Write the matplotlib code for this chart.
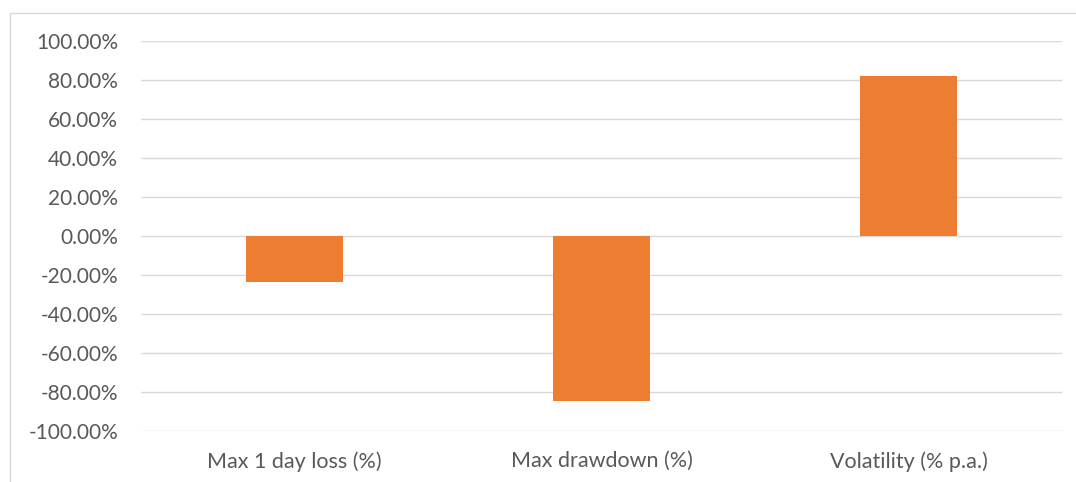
import matplotlib
matplotlib.use("Agg")
import matplotlib.pyplot as plt
from matplotlib.patches import Rectangle
from matplotlib.ticker import FuncFormatter

categories = ["Max 1 day loss (%)", "Max drawdown (%)", "Volatility (% p.a.)"]
values = [-23.5, -84.5, 82.0]
yticks = [-100, -80, -60, -40, -20, 0, 20, 40, 60, 80, 100]

plt.rcParams["font.family"] = ["Lato", "DejaVu Sans"]

fig = plt.figure(figsize=(10.76, 4.82), dpi=100)
W, H = 1076, 482
ax = fig.add_axes([141 / W, 1 - 431 / H, (1062 - 141) / W, (431 - 41) / H])

# chart frame, runs off the right and bottom edges
fig.patches.append(Rectangle((9.5 / W, -0.1), 1.2, 1 - 12.5 / H + 0.1,
                             transform=fig.transFigure, fill=False,
                             edgecolor="#d9d9d9", linewidth=1))

x = range(len(categories))
ax.bar(x, values, width=0.316, color="#ED7D31", zorder=3)

ax.set_xlim(-0.5, 2.5)
ax.set_ylim(-100, 100)
ax.set_yticks(yticks)
ax.yaxis.set_major_formatter(FuncFormatter(lambda v, p: f"{v:.2f}%"))
ax.grid(axis="y", color="#d9d9d9", linewidth=1, zorder=0)
for s in ax.spines.values():
    s.set_visible(False)
ax.tick_params(axis="y", length=0, pad=16.5, labelsize=15, labelcolor="#595959")
ax.set_xticks(list(x))
ax.set_xticklabels(categories)
ax.tick_params(axis="x", length=0, pad=14.5, labelsize=15.5, labelcolor="#595959")

fig.savefig("out.png", dpi=100)
